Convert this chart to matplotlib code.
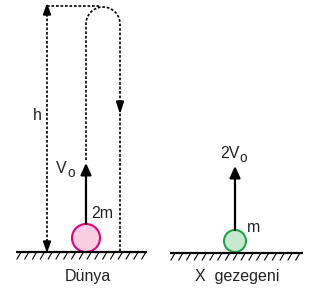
import numpy as np
import matplotlib.pyplot as plt
from matplotlib.patches import Circle, FancyArrowPatch

plt.rcParams['font.family'] = ['Liberation Sans', 'DejaVu Sans']

# diagram content
planets = ['Dünya', 'X  gezegeni']
speed_labels = ['V', '2V']
speed_sub = 'o'
mass_labels = ['2m', 'm']
height_label = 'h'

fig = plt.figure(figsize=(3.10, 2.92), dpi=100)
ax = fig.add_axes([0, 0, 1, 1])
ax.set_xlim(0, 310)
ax.set_ylim(292, 0)
ax.axis('off')

dot = (0, (1.6, 1.1))
fs = 11.5
tc = '#222222'


def ground(x0, x1, y):
    ax.plot([x0, x1], [y, y], color='black', lw=1.6, solid_capstyle='butt')
    for x in np.arange(x0 + 1, x1 - 3, 7.8):
        ax.plot([x, x + 3.5], [y + 7, y + 1], color='black', lw=0.8)


def arrow(x, y0, y1):
    a = FancyArrowPatch((x, y0), (x, y1), arrowstyle='-|>,head_length=7,head_width=3.2',
                        mutation_scale=1, color='black', lw=1.6,
                        shrinkA=0, shrinkB=0)
    ax.add_patch(a)


def speed(x, y, main):
    t = ax.text(x, y, main, fontsize=fs, va='baseline', ha='left', color=tc)
    fig.canvas.draw()
    bb = t.get_window_extent().transformed(ax.transData.inverted())
    ax.text(bb.x1 + 0.3, y + 4, speed_sub, fontsize=fs * 0.85, va='baseline', ha='left', color=tc)


# Earth side
ground(16, 147, 252)
ax.add_patch(Circle((86, 238), 14, facecolor='#f8cfe1', edgecolor='#e5007d', lw=1.5))
arrow(86, 224, 163)
speed(56, 173, speed_labels[0])
ax.text(91, 214, mass_labels[0], fontsize=fs, va='center', ha='left', color=tc)

# height arrow (double headed dotted)
ax.plot([47, 47], [14, 242], color='black', lw=1.2, linestyle=dot)
ax.fill([47, 43.5, 50.5], [5, 15, 15], color='black')
ax.fill([47, 43.5, 50.5], [251, 241, 241], color='black')
ax.text(37, 115, height_label, fontsize=fs, va='center', ha='center', color=tc)

# top dotted line and loop path
ax.plot([47, 100], [6, 6], color='black', lw=1.2, linestyle=dot)
t = np.linspace(np.pi, 0, 40)
cx, cy, r = 103, 24, 17
px = np.concatenate([[86], cx + r * np.cos(t), [120]])
py = np.concatenate([[160], cy - r * np.sin(t), [252]])
ax.plot(px, py, color='black', lw=1.2, linestyle=dot)
ax.fill([120, 116.5, 123.5], [112, 101, 101], color='black')

ax.text(88, 277, planets[0], fontsize=fs, va='center', ha='center', color=tc)

# planet X side
ground(170, 303, 253)
ax.add_patch(Circle((235, 241), 11, facecolor='#c9e8d0', edgecolor='#1fa34a', lw=1.5))
arrow(235, 230, 166)
speed(220, 158, speed_labels[1])
ax.text(247, 227, mass_labels[1], fontsize=fs, va='center', ha='left', color=tc)
ax.text(237, 277, planets[1], fontsize=fs, va='center', ha='center', color=tc)

fig.savefig('out.png', dpi=100)
